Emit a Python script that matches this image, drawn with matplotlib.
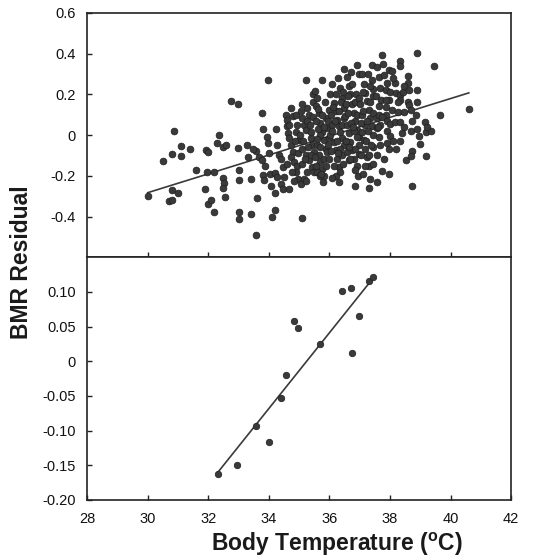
import matplotlib
matplotlib.use('Agg')
import matplotlib.pyplot as plt

plt.rcParams['font.family'] = ['Liberation Sans', 'DejaVu Sans']
plt.rcParams['mathtext.fontset'] = 'custom'
plt.rcParams['mathtext.rm'] = 'Liberation Sans:bold'
plt.rcParams['mathtext.bf'] = 'Liberation Sans:bold'
plt.rcParams['mathtext.it'] = 'Liberation Sans:bold'

# ---------------- data: upper panel (large sample) ----------------
top_x = [
    # left, sparse part
    30.00, 30.50, 30.88, 30.79, 31.09, 31.09, 31.38, 30.69, 30.81, 30.79,
    30.99, 31.58, 31.91, 32.00, 31.88, 32.00, 32.10, 32.20, 31.97, 32.20,
    32.37, 32.29, 32.50, 32.60, 32.76, 32.99, 32.99, 33.00, 33.00, 33.00,
    33.00, 33.27, 33.41, 33.41, 33.59, 33.61, 33.77, 33.79, 33.56, 33.66,
    33.77, 33.87, 33.95, 33.98, 34.00, 33.79, 33.85, 34.03, 34.19, 34.11,
    34.19, 33.98, 34.19, 32.50, 32.52, 32.50, 32.55, 33.32, 33.49, 34.06,
    35.24, 35.74, 35.45, 35.52, 35.10,
    # 34 - 35
    34.23, 34.28, 34.34, 34.39, 34.45, 34.28, 34.50, 34.39, 34.48,
    34.56, 34.61, 34.59, 34.63, 34.67, 34.72, 34.78, 34.72, 34.83, 34.94,
    34.89, 34.97, 34.83, 34.67, 34.81, 34.94, 34.89, 34.99, 34.72,
    34.60, 34.75, 34.85, 34.90, 34.65, 34.95,
    # 35 - 35.5
    35.05, 35.10, 35.16, 35.21, 35.27, 35.32, 35.38, 35.43, 35.10, 35.21,
    35.32, 35.10, 35.43, 35.27, 35.16, 35.05, 35.49, 35.49, 35.38, 35.21,
    35.03, 35.13, 35.25, 35.35, 35.45, 35.18, 35.40, 35.30, 35.08, 35.47,
    # 35.5 - 36
    35.54, 35.60, 35.65, 35.70, 35.76, 35.81, 35.87, 35.60, 35.65, 35.70,
    35.76, 35.81, 35.92, 35.98, 35.92, 35.87, 35.98, 35.60, 35.70, 35.54,
    35.81, 35.70,
    35.55, 35.62, 35.75, 35.85, 35.95, 35.58, 35.68, 35.90, 35.78, 35.95,
    35.52, 35.63, 35.72, 35.83, 35.97,
    # 36 - 36.5
    36.03, 36.09, 36.14, 36.20, 36.25, 36.31, 36.36, 36.42, 36.14, 36.20,
    36.25, 36.31, 36.36, 36.42, 36.47, 36.47, 36.36, 36.42, 36.47, 36.09,
    36.03, 36.14, 36.47,
    36.05, 36.12, 36.22, 36.30, 36.40, 36.05, 36.25, 36.35, 36.45, 36.20,
    36.28,
    36.08, 36.18, 36.28, 36.38, 36.44, 36.10, 36.33,
    # 36.5 - 37
    36.58, 36.63, 36.69, 36.74, 36.80, 36.85, 36.91, 36.96, 36.58, 36.63,
    36.69, 36.74, 36.80, 36.85, 36.91, 36.58, 36.63, 36.96, 36.99, 36.52,
    36.96, 36.91, 36.85,
    36.55, 36.62, 36.72, 36.82, 36.92, 36.55, 36.68, 36.85, 36.95, 36.75,
    36.88,
    36.60, 36.66, 36.77, 36.83, 36.90, 36.98, 36.70,
    # 37 - 37.7
    37.07, 37.13, 37.18, 37.23, 37.29, 37.34, 37.40, 37.45, 37.07, 37.13,
    37.18, 37.23, 37.29, 37.34, 37.29, 37.45, 37.40, 37.45, 37.07, 37.18,
    37.45, 37.02,
    37.05, 37.12, 37.25, 37.35, 37.42, 37.05, 37.22, 37.32, 37.45, 37.28,
    37.10, 37.16, 37.26, 37.38, 37.43, 37.10, 37.33,
    37.56, 37.62, 37.67, 37.56, 37.62, 37.67, 37.56, 37.62, 37.73, 37.57,
    37.55, 37.65, 37.58, 37.68,
    37.60, 37.70, 37.80, 37.88, 37.98, 37.78, 37.90,
    # 37.7 - 39.4
    37.74, 38.89, 38.32, 38.32, 37.95, 38.05, 37.79, 37.90, 38.16, 37.85,
    38.00, 38.21, 38.32, 38.42, 38.58, 38.58, 38.63, 38.32, 38.58, 38.63,
    38.89, 38.89, 37.85, 37.85, 38.05, 38.26, 38.47, 38.68, 38.73, 38.84,
    37.74, 37.90, 38.00, 38.16, 38.32, 38.47, 38.68, 38.89, 38.94, 39.15,
    39.20, 39.36, 39.00, 37.90, 38.00, 38.11, 38.32, 37.95, 38.73, 38.52,
    38.68, 39.20, 37.95, 38.73,
    38.10, 38.20, 38.38, 38.45, 38.25,
    # right end
    39.46, 39.65, 40.60, 39.22,
]
top_y = [
    -0.300, -0.127, 0.021, -0.091, -0.053, -0.102, -0.068, -0.326, -0.321, -0.272,
    -0.285, -0.170, -0.074, -0.083, -0.267, -0.338, -0.321, -0.380, -0.180, -0.180,
    0.000, -0.041, -0.058, -0.051, 0.167, 0.154, -0.066, -0.173, -0.219, -0.379,
    -0.412, -0.051, -0.216, -0.387, -0.490, -0.310, 0.107, 0.028, -0.080, -0.107,
    -0.123, -0.152, -0.008, -0.041, -0.090, -0.198, -0.222, -0.190, -0.186, -0.403,
    -0.367, 0.271, -0.285, -0.210, -0.235, -0.262, -0.305, -0.110, -0.070, -0.250,
    0.270, 0.270, 0.200, 0.215, -0.405,
    # 34 - 35
    0.030, -0.050, -0.100, -0.117, -0.158, -0.208, -0.208, -0.242, -0.267,
    0.100, 0.075, 0.042, 0.008, -0.017, -0.050, -0.083, -0.108, -0.133, -0.150,
    -0.183, -0.217, -0.225, -0.263, 0.092, 0.050, 0.017, -0.025, 0.133,
    -0.140, -0.180, -0.030, 0.100, 0.050, -0.090,
    # 35 - 35.5
    0.117, 0.083, 0.050, 0.025, 0.133, 0.100, -0.017, -0.050, -0.067, -0.100,
    -0.125, -0.142, -0.158, -0.183, -0.217, -0.242, -0.183, -0.083, 0.017, -0.225,
    0.000, -0.030, 0.070, 0.050, 0.090, -0.120, -0.100, -0.060, 0.150, 0.160,
    # 35.5 - 36
    0.142, 0.183, 0.108, 0.058, 0.017, -0.025, -0.067, -0.050, -0.100, -0.133,
    -0.167, -0.117, -0.083, -0.017, 0.033, 0.083, 0.125, -0.183, -0.200, -0.150,
    -0.200, 0.000,
    0.070, 0.030, 0.100, 0.160, 0.070, -0.020, -0.060, -0.150, -0.230, -0.050,
    -0.110, 0.130, -0.190, 0.040, -0.120,
    # 36 - 36.5
    0.200, 0.250, 0.158, 0.117, 0.075, 0.042, 0.017, -0.017, -0.033, -0.075,
    -0.117, -0.158, -0.183, -0.100, -0.050, 0.322, 0.233, 0.183, 0.133, 0.050,
    0.000, -0.150, 0.083,
    0.100, 0.140, 0.200, 0.120, 0.050, -0.080, -0.030, -0.070, -0.140, -0.200,
    0.280,
    0.020, 0.070, -0.090, 0.160, 0.210, -0.210, -0.230,
    # 36.5 - 37
    0.283, 0.242, 0.200, 0.150, 0.108, 0.067, 0.025, -0.008, 0.050, 0.008,
    -0.033, -0.075, -0.117, -0.250, -0.150, -0.083, -0.125, -0.050, -0.092, 0.092,
    0.300, 0.342, 0.160,
    0.150, 0.110, 0.060, 0.020, 0.100, -0.030, -0.120, -0.070, -0.200, 0.250,
    0.200,
    0.190, -0.060, 0.040, -0.170, -0.010, 0.180, 0.310,
    # 37 - 37.7
    0.300, 0.250, 0.208, 0.167, 0.125, 0.083, 0.042, 0.000, 0.017, -0.025,
    -0.067, -0.108, -0.150, -0.217, -0.258, 0.108, 0.342, 0.225, 0.100, 0.050,
    -0.058, 0.150,
    0.060, 0.120, 0.070, 0.160, 0.270, -0.100, -0.030, -0.100, -0.140, 0.300,
    0.210, -0.150, 0.020, -0.050, 0.190, -0.190, 0.240,
    0.333, 0.283, 0.233, 0.033, -0.008, -0.050, 0.083, 0.142, -0.175, -0.229,
    0.190, 0.100, -0.100, 0.050,
    0.040, 0.170, -0.120, 0.100, 0.170, 0.350, -0.040,
    # 37.7 - 39.4
    0.391, 0.404, 0.363, 0.341, 0.321, 0.313, 0.296, 0.254, 0.254, 0.221,
    0.213, 0.204, 0.196, 0.213, 0.288, 0.254, 0.221, 0.171, 0.163, 0.146,
    0.221, 0.163, 0.171, 0.138, 0.121, 0.113, 0.113, 0.121, 0.071, 0.096,
    0.088, 0.071, 0.054, 0.063, 0.063, 0.038, 0.021, 0.029, -0.004, 0.063,
    0.013, 0.021, -0.046, 0.021, -0.004, -0.029, -0.029, -0.071, -0.079, -0.121,
    -0.104, -0.104, -0.192, -0.251,
    0.280, -0.070, 0.010, 0.240, 0.160,
    # right end
    0.341, 0.100, 0.130, 0.040,
]
top_fit_x = [30.0, 40.6]
top_fit_y = [-0.283, 0.207]

# ---------------- data: lower panel ----------------
bot_x = [32.32, 32.96, 33.58, 34.01, 34.39, 34.55, 34.84, 34.97, 35.69, 36.41,
         36.71, 36.76, 36.96, 37.31, 37.44]
bot_y = [-0.162, -0.149, -0.094, -0.117, -0.053, -0.020, 0.058, 0.048, 0.025, 0.102,
         0.105, 0.012, 0.065, 0.116, 0.121]
bot_fit_x = [32.30, 37.48]
bot_fit_y = [-0.161, 0.122]

x_ticks = [28, 30, 32, 34, 36, 38, 40, 42]
x_ticklabels = ['28', '30', '32', '34', '36', '38', '40', '42']
top_yticks = [-0.4, -0.2, 0.0, 0.2, 0.4, 0.6]
top_yticklabels = ['-0.4', '-0.2', '0', '0.2', '0.4', '0.6']
bot_yticks = [-0.20, -0.15, -0.10, -0.05, 0.0, 0.05, 0.10]
bot_yticklabels = ['-0.20', '-0.15', '-0.10', '-0.05', '0', '0.05', '0.10']

# ---------------- figure ----------------
fig = plt.figure(figsize=(5.41, 5.58), dpi=100)
ax1 = fig.add_axes([0.161, 0.539, 0.784, 0.438])
ax2 = fig.add_axes([0.161, 0.104, 0.784, 0.435])

dot_face = '#3a3a3a'
dot_edge = '#1e1e1e'
line_col = '#3a3a3a'

ax1.scatter(top_x, top_y, s=24, facecolor=dot_face, edgecolor=dot_edge,
            linewidth=0.5, zorder=3)
ax1.plot(top_fit_x, top_fit_y, color=line_col, lw=1.2, zorder=2)

ax2.scatter(bot_x, bot_y, s=22, facecolor=dot_face, edgecolor=dot_edge,
            linewidth=0.5, zorder=3)
ax2.plot(bot_fit_x, bot_fit_y, color=line_col, lw=1.2, zorder=2)

for ax in (ax1, ax2):
    ax.set_xlim(28, 42)
    for sp in ax.spines.values():
        sp.set_linewidth(1.2)
        sp.set_color('#222222')
    ax.tick_params(direction='in', length=3.5, width=1.0, labelsize=10.5,
                   top=False, right=False, colors='#222222', labelcolor='#111111')
    ax.tick_params(axis='y', pad=8)
    ax.tick_params(axis='x', pad=9)

ax1.set_ylim(-0.6, 0.6)
ax1.set_xticks(x_ticks[1:-1])
ax1.tick_params(labelbottom=False)
ax1.set_yticks(top_yticks)
ax1.set_yticklabels(top_yticklabels)

ax2.set_ylim(-0.20, 0.15)
ax2.set_xticks(x_ticks)
ax2.set_xticklabels(x_ticklabels)
ax2.set_yticks(bot_yticks)
ax2.set_yticklabels(bot_yticklabels)

fig.text(0.040, 0.530, 'BMR Residual', rotation=90, ha='center', va='center',
         fontsize=16.5, fontweight='bold', color='#1a1a1a')
fig.text(0.623, 0.024, r'Body Temperature ($^{\mathrm{o}}$C)', ha='center', va='center',
         fontsize=16.5, fontweight='bold', color='#1a1a1a')

fig.savefig('out.png', dpi=100)
